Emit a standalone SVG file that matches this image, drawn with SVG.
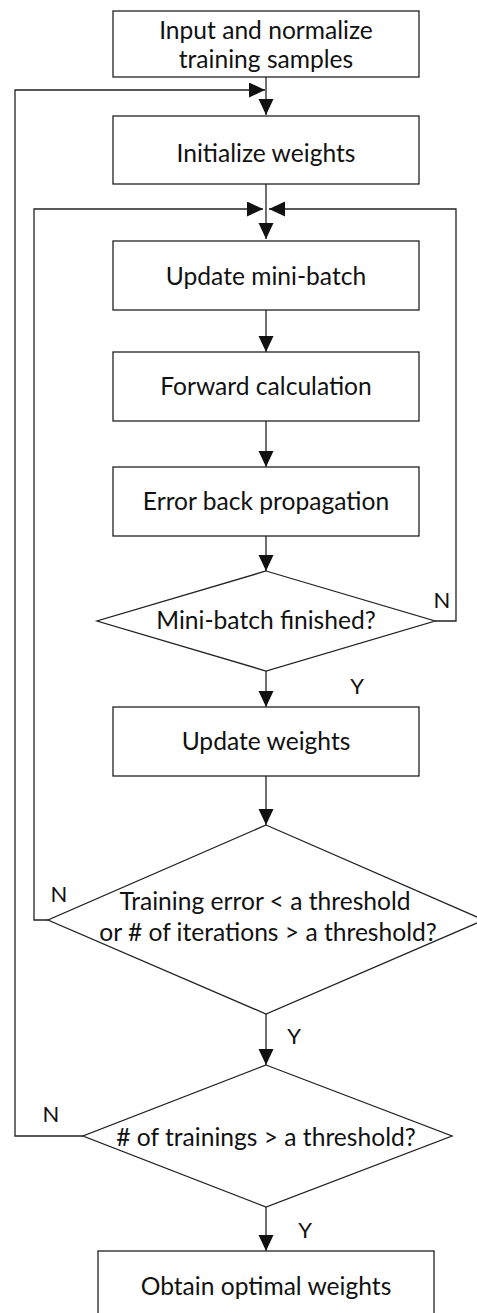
<svg xmlns="http://www.w3.org/2000/svg" width="477" height="1313" viewBox="0 0 477 1313">
<style>
.n{fill:#fff;stroke:#222;stroke-width:1.3}
.t{font-family:Lato,"Open Sans",sans-serif;font-size:24.6px;fill:#111;text-anchor:middle}
.l{font-family:Lato,"Open Sans",sans-serif;font-size:22px;fill:#111;text-anchor:middle}
.c{fill:none;stroke:#222;stroke-width:1.3}
</style>
<defs>
<marker id="a" markerUnits="userSpaceOnUse" markerWidth="18" markerHeight="16" refX="16" refY="7.5" orient="auto">
<path d="M0,0 L16,7.5 L0,15 Z" fill="#111"/>
</marker>
</defs>
<g id="connectors">
<path class="c" d="M266,77 V115" marker-end="url(#a)"/>
<path class="c" d="M83,1136 H15 V90 H265" marker-end="url(#a)"/>
<path class="c" d="M266,184 V239" marker-end="url(#a)"/>
<path class="c" d="M48,920 H34 V209 H263" marker-end="url(#a)"/>
<path class="c" d="M435,621 H456 V209 H269" marker-end="url(#a)"/>
<path class="c" d="M266,310 V352" marker-end="url(#a)"/>
<path class="c" d="M266,421 V467" marker-end="url(#a)"/>
<path class="c" d="M266,536 V571" marker-end="url(#a)"/>
<path class="c" d="M266,671 V707" marker-end="url(#a)"/>
<path class="c" d="M266,776 V825" marker-end="url(#a)"/>
<path class="c" d="M266,1014 V1065" marker-end="url(#a)"/>
<path class="c" d="M266,1207 V1251" marker-end="url(#a)"/>
</g>
<g id="labels">
<text class="l" x="442" y="608">N</text>
<text class="l" x="357" y="694">Y</text>
<text class="l" x="59" y="902">N</text>
<text class="l" x="294" y="1044">Y</text>
<text class="l" x="51" y="1122">N</text>
<text class="l" x="305" y="1238">Y</text>
</g>
<g id="n1"><rect class="n" x="113" y="11" width="306" height="66"/>
<text class="t" x="266" y="39">Input and normalize</text><text class="t" x="266" y="68">training samples</text></g>
<g id="n2"><rect class="n" x="113" y="116" width="306" height="68"/>
<text class="t" x="266" y="162">Initialize weights</text></g>
<g id="n3"><rect class="n" x="113" y="241" width="306" height="69"/>
<text class="t" x="266" y="285">Update mini-batch</text></g>
<g id="n4"><rect class="n" x="113" y="352" width="306" height="69"/>
<text class="t" x="266" y="395">Forward calculation</text></g>
<g id="n5"><rect class="n" x="113" y="467" width="306" height="69"/>
<text class="t" x="266" y="510">Error back propagation</text></g>
<g id="n6"><polygon class="n" points="266,571 435,621 266,671 97,621"/>
<text class="t" x="266" y="629">Mini-batch finished?</text></g>
<g id="n7"><rect class="n" x="113" y="707" width="306" height="69"/>
<text class="t" x="266" y="750">Update weights</text></g>
<g id="n8"><polygon class="n" points="266,825 484,920 266,1014 48,920"/>
<text class="t" x="265" y="910">Training error &lt; a threshold</text><text class="t" x="268" y="941">or # of iterations &gt; a threshold?</text></g>
<g id="n9"><polygon class="n" points="266,1065 452,1136 266,1207 83,1136"/>
<text class="t" x="266" y="1146"># of trainings &gt; a threshold?</text></g>
<g id="n10"><rect class="n" x="98" y="1251" width="336" height="69"/>
<text class="t" x="266" y="1295">Obtain optimal weights</text></g>
</svg>
